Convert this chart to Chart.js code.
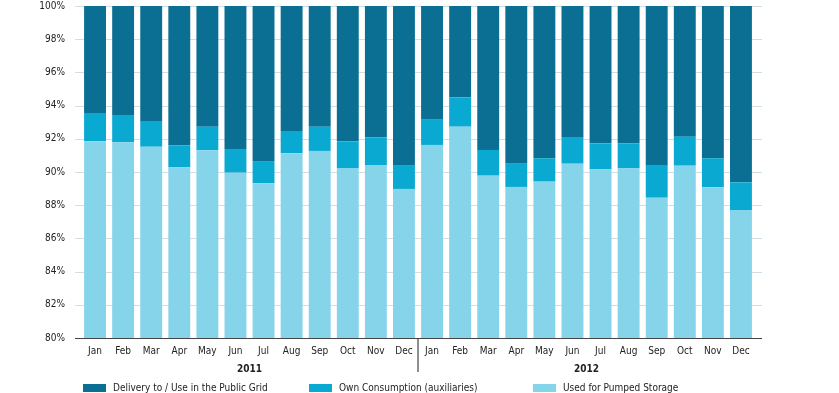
<!DOCTYPE html>
<html>
<head>
<meta charset="utf-8">
<script src="https://cdn.jsdelivr.net/npm/chart.js@4"></script>
<style>
  body { margin: 0; background: #fff; }
  #wrap { position: relative; width: 839px; height: 393px; }
  .leg { position: absolute; top: 383px; font: 10px 'Liberation Sans Narrow', 'DejaVu Sans Condensed', sans-serif; color: #222; line-height: 10px; white-space: nowrap; }
  .leg span { display: inline-block; width: 23px; height: 8px; margin-right: 7px; vertical-align: -1px; }
</style>
</head>
<body>
<div id="wrap">
  <canvas id="chartId" width="839" height="393"></canvas>
  <div class="leg" style="left:83px"><span style="background:#0a6f93"></span>Delivery to / Use in the Public Grid</div>
  <div class="leg" style="left:309px"><span style="background:#0aa9d1"></span>Own Consumption (auxiliaries)</div>
  <div class="leg" style="left:533px"><span style="background:#86d4ea"></span>Used for Pumped Storage</div>
</div>
<script>
const months = ['Jan', 'Feb', 'Mar', 'Apr', 'May', 'Jun', 'Jul', 'Aug', 'Sep', 'Oct', 'Nov', 'Dec',
                'Jan', 'Feb', 'Mar', 'Apr', 'May', 'Jun', 'Jul', 'Aug', 'Sep', 'Oct', 'Nov', 'Dec'];
const years = ['2011', '2012'];

// percent shares per month, 2011 then 2012
const pumpedStorage = [91.85, 91.79, 91.52, 90.28, 91.31, 89.96, 89.32, 91.13, 91.27, 90.24, 90.42, 88.98,
                       91.63, 92.73, 89.78, 89.10, 89.42, 90.50, 90.16, 90.22, 88.45, 90.38, 89.08, 87.71];
const ownConsumption = [1.66, 1.60, 1.51, 1.33, 1.42, 1.43, 1.34, 1.34, 1.46, 1.61, 1.67, 1.44,
                        1.56, 1.77, 1.55, 1.44, 1.41, 1.57, 1.55, 1.51, 1.93, 1.75, 1.75, 1.67];
const publicGrid = [6.49, 6.61, 6.97, 8.39, 7.27, 8.61, 9.34, 7.53, 7.27, 8.15, 7.91, 9.58,
                    6.81, 5.50, 8.67, 9.46, 9.17, 7.93, 8.29, 8.27, 9.62, 7.87, 9.17, 10.62];

const font = "'Liberation Sans Narrow', 'DejaVu Sans Condensed', sans-serif";

// grid lines, axis line, year labels and the year separator
const decorations = {
    id: 'decorations',
    beforeDatasetsDraw(chart) {
        const ctx = chart.ctx;
        const y = chart.scales.y;
        ctx.save();
        ctx.strokeStyle = '#d3dde4';
        ctx.lineWidth = 1;
        y.ticks.forEach(t => {
            const py = Math.round(y.getPixelForValue(t.value)) + 0.5;
            ctx.beginPath();
            ctx.moveTo(75, py);
            ctx.lineTo(762, py);
            ctx.stroke();
        });
        ctx.restore();
    },
    afterDraw(chart) {
        const ctx = chart.ctx;
        const x = chart.scales.x;
        const bottom = chart.chartArea.bottom;
        ctx.save();
        ctx.strokeStyle = '#444';
        ctx.lineWidth = 1.2;
        ctx.beginPath();
        ctx.moveTo(75, bottom + 0.5);
        ctx.lineTo(762, bottom + 0.5);
        ctx.stroke();
        const sep = (x.getPixelForValue(11) + x.getPixelForValue(12)) / 2;
        ctx.beginPath();
        ctx.moveTo(sep, bottom);
        ctx.lineTo(sep, bottom + 34);
        ctx.stroke();
        ctx.fillStyle = '#222';
        ctx.font = 'bold 10px ' + font;
        ctx.textAlign = 'center';
        ctx.textBaseline = 'middle';
        years.forEach((yr, i) => {
            const cx = (x.getPixelForValue(i * 12) + x.getPixelForValue(i * 12 + 11)) / 2;
            ctx.fillText(yr, cx, bottom + 31);
        });
        ctx.restore();
    }
};

new Chart(document.getElementById('chartId'), {
    type: 'bar',
    data: {
        labels: months,
        datasets: [
            { label: 'Used for Pumped Storage', data: pumpedStorage, backgroundColor: '#86d4ea' },
            { label: 'Own Consumption (auxiliaries)', data: ownConsumption, backgroundColor: '#0aa9d1' },
            { label: 'Delivery to / Use in the Public Grid', data: publicGrid, backgroundColor: '#0a6f93' }
        ]
    },
    options: {
        responsive: false,
        animation: false,
        layout: { padding: { top: 6, right: 84, left: 0, bottom: 0 } },
        datasets: { bar: { barPercentage: 0.78, categoryPercentage: 1 } },
        plugins: { legend: { display: false }, tooltip: { enabled: false } },
        scales: {
            x: {
                stacked: true,
                grid: { display: false, drawTicks: false },
                border: { display: false },
                ticks: { padding: 7, color: '#222', font: { family: font, size: 10 }, maxRotation: 0, autoSkip: false },
                afterFit(scale) { scale.height = 55; }
            },
            y: {
                stacked: true,
                min: 80,
                max: 100,
                grid: { display: false, drawTicks: false },
                border: { display: false },
                ticks: {
                    stepSize: 2,
                    padding: 16,
                    color: '#222',
                    font: { family: font, size: 10 },
                    callback: v => v + '%'
                },
                afterFit(scale) {
                    scale.width = 81;
                    scale.paddingTop = 0;
                    scale.paddingBottom = 0;
                }
            }
        }
    },
    plugins: [decorations]
});
</script>
</body>
</html>
